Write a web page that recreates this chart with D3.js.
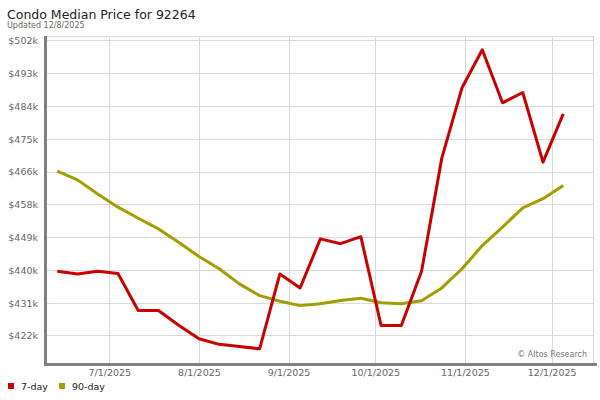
<!DOCTYPE html>
<html>
<head>
<meta charset="utf-8">
<script src="https://cdn.jsdelivr.net/npm/d3@7"></script>
<style>
html,body{margin:0;padding:0;background:#fff;}
svg{display:block;font-family:"DejaVu Sans",Verdana,sans-serif;}
</style>
</head>
<body>
<svg id="chart" width="600" height="400"></svg>
<script>
// ---- data ----
const dates = ["2025-06-13","2025-06-20","2025-06-27","2025-07-04","2025-07-11","2025-07-18","2025-07-25",
  "2025-08-01","2025-08-08","2025-08-15","2025-08-22","2025-08-29","2025-09-05","2025-09-12","2025-09-19",
  "2025-09-26","2025-10-03","2025-10-10","2025-10-17","2025-10-24","2025-10-31","2025-11-07","2025-11-14",
  "2025-11-21","2025-11-28","2025-12-05"];
const sevenDay = [439400,438700,439400,438800,428800,428800,424800,421100,419600,419000,418400,438700,
  434900,448200,446900,448800,424700,424700,439400,470100,489200,499500,485100,487900,469000,482100];
const ninetyDay = [466600,464200,460400,456800,453800,450900,447300,443400,440100,436000,432800,431300,
  430100,430600,431500,432100,430900,430600,431400,434900,440100,446400,451400,456600,459100,462700];
const yTickValues = [422000,430889,439778,448667,457556,466444,475333,484222,493111,502000];
const yTickLabels = ["$422k","$431k","$440k","$449k","$458k","$466k","$475k","$484k","$493k","$502k"];
const xTickDates = ["2025-07-01","2025-08-01","2025-09-01","2025-10-01","2025-11-01","2025-12-01"];
const xTickLabels = ["7/1/2025","8/1/2025","9/1/2025","10/1/2025","11/1/2025","12/1/2025"];
const seriesNames = ["7-day","90-day"];
const seriesColors = ["#c80000","#a09e00"];
const titleText = "Condo Median Price for 92264";
const subtitleText = "Updated 12/8/2025";
const creditText = "\u00A9 Altos Research";

// ---- layout ----
const parse = d3.timeParse("%Y-%m-%d");
const L = 47, R = 593, T = 36, B = 363;
const x = d3.scaleTime()
  .domain([new Date(2025,5,9,11), new Date(2025,11,15,7)])
  .range([L, R]);
const y = d3.scaleLinear().domain([414540, 503220]).range([B, T]);

const svg = d3.select("#chart");

// gridlines
const grid = svg.append("g").attr("stroke","#d9d9d9").attr("stroke-width",1).attr("shape-rendering","crispEdges");
grid.selectAll("line.h").data(yTickValues).join("line")
  .attr("x1", L).attr("x2", R)
  .attr("y1", d => Math.round(y(d)) + 0.5).attr("y2", d => Math.round(y(d)) + 0.5);
grid.selectAll("line.v").data(xTickDates).join("line")
  .attr("y1", T).attr("y2", B)
  .attr("x1", d => Math.round(x(parse(d))) + 0.5).attr("x2", d => Math.round(x(parse(d))) + 0.5);
// top & right border
grid.append("line").attr("x1", L).attr("x2", R + 0.5).attr("y1", T + 0.5).attr("y2", T + 0.5);
grid.append("line").attr("x1", R + 0.5).attr("x2", R + 0.5).attr("y1", T).attr("y2", B);
grid.append("line").attr("x1", L).attr("x2", R).attr("y1", B + 0.5).attr("y2", B + 0.5);

// y axis labels
const yAxis = d3.axisLeft(y).tickValues(yTickValues)
  .tickFormat((d,i) => yTickLabels[i]).tickSize(0).tickPadding(0);
const gy = svg.append("g").attr("transform", `translate(38,0)`).call(yAxis);
gy.select(".domain").remove();
gy.selectAll("text").attr("fill","#666").attr("font-size","9.5px")
  .attr("font-family","DejaVu Sans, sans-serif").attr("dy","0.35em");

// x axis labels
const xAxis = d3.axisBottom(x).tickValues(xTickDates.map(parse))
  .tickFormat((d,i) => xTickLabels[i]).tickSize(0).tickPadding(0);
const gx = svg.append("g").attr("transform", `translate(0,369)`).call(xAxis);
gx.select(".domain").remove();
gx.selectAll("text").attr("fill","#666").attr("font-size","9.5px")
  .attr("font-family","DejaVu Sans, sans-serif").attr("dy","0.71em");

// credit
svg.append("text").attr("x", 587).attr("y", 357).attr("text-anchor","end")
  .attr("font-size","8px").attr("fill","#777").text(creditText);

// series lines
const series = [ninetyDay, sevenDay];
const cols = [seriesColors[1], seriesColors[0]];
const line = d3.line().x((d,i) => x(parse(dates[i]))).y(d => y(d));
svg.append("g").selectAll("path").data(series).join("path")
  .attr("d", d => line(d))
  .attr("fill","none")
  .attr("stroke", (d,i) => cols[i])
  .attr("stroke-width", 3)
  .attr("stroke-linejoin","round")
  .attr("stroke-linecap","butt");

// axes lines (dark gray)
svg.append("line").attr("x1", 45.5).attr("x2", 45.5).attr("y1", T).attr("y2", 366)
  .attr("stroke","#808080").attr("stroke-width",3);
svg.append("line").attr("x1", 44).attr("x2", 597).attr("y1", 364.5).attr("y2", 364.5)
  .attr("stroke","#808080").attr("stroke-width",3);

// title
svg.append("text").attr("x", 7).attr("y", 19).attr("font-size","12.5px").attr("fill","#222").text(titleText);
svg.append("text").attr("x", 7).attr("y", 28).attr("font-size","8px").attr("fill","#666").text(subtitleText);

// legend
const lg = svg.append("g");
const legX = [8, 59];
seriesNames.forEach((n,i) => {
  lg.append("rect").attr("x", legX[i]).attr("y", 383).attr("width", 6).attr("height", 6).attr("fill", seriesColors[i]);
  lg.append("text").attr("x", legX[i] + 13).attr("y", 390).attr("font-size","9.5px").attr("fill","#222").text(n);
});
</script>
</body>
</html>
